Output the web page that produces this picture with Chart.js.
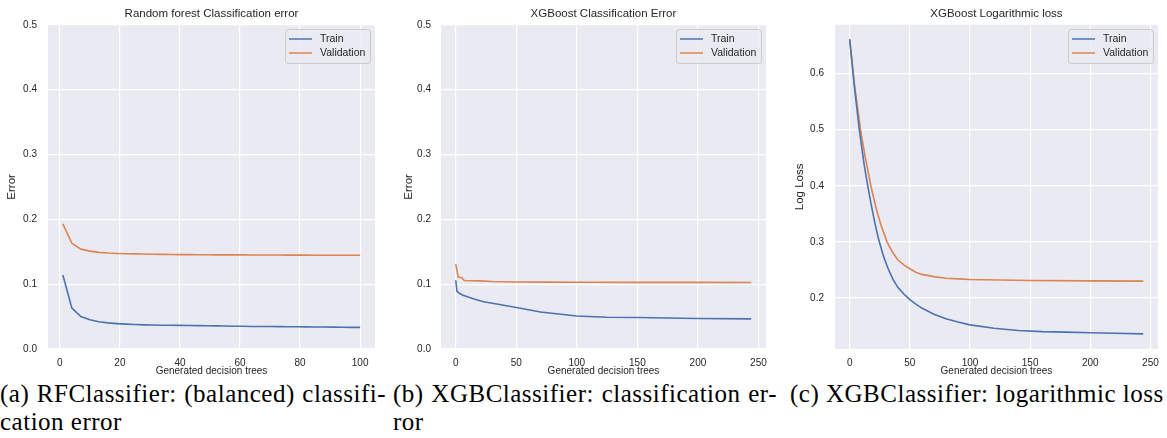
<!DOCTYPE html>
<html>
<head>
<meta charset="utf-8">
<title>Training curves</title>
<script src="https://cdn.jsdelivr.net/npm/chart.js@4.4.1/dist/chart.umd.min.js"></script>
<style>
  html, body { margin: 0; padding: 0; background: #fff; }
  body { position: relative; width: 1167px; height: 438px; overflow: hidden; }
  .panel { position: absolute; top: 0; height: 380px; }
  .caption {
    position: absolute;
    top: 380px;
    font-family: "Liberation Serif", "Times New Roman", serif;
    font-size: 25px;
    line-height: 28px;
    letter-spacing: 0.5px;
    color: #000;
    white-space: nowrap;
  }
  .caption .full { text-align: justify; text-align-last: justify; }
</style>
</head>
<body>

<div class="panel" style="left:0;width:385px"><canvas id="rfError"></canvas></div>
<div class="panel" style="left:390px;width:385px"><canvas id="xgbError"></canvas></div>
<div class="panel" style="left:780px;width:387px"><canvas id="xgbLogloss"></canvas></div>

<div class="caption" style="left:0;width:386px">
  <div class="full">(a) RFClassifier: (balanced) classifi-</div>
  <div>cation error</div>
</div>
<div class="caption" style="left:393px;width:384px">
  <div class="full">(b) XGBClassifier: classification er-</div>
  <div>ror</div>
</div>
<div class="caption" style="left:790px;width:374px">
  <div>(c) XGBClassifier: logarithmic loss</div>
</div>

<script>
// --- Random forest: error vs number of trees ---
const rfTrees = [1, 4, 7, 10, 13, 16, 19, 22, 25, 28, 31, 34, 37, 40, 43, 46, 49,
                 52, 55, 58, 61, 64, 67, 70, 73, 76, 79, 82, 85, 88, 91, 94, 97, 100];
const rfTrain = [0.114, 0.063, 0.050, 0.045, 0.042, 0.0403, 0.0392, 0.0383, 0.0377,
                 0.0372, 0.0369, 0.0367, 0.0366, 0.0364, 0.0362, 0.0360, 0.0358,
                 0.0356, 0.0354, 0.0352, 0.0350, 0.0348, 0.0347, 0.0346, 0.0345,
                 0.0343, 0.0342, 0.0341, 0.0340, 0.0339, 0.0337, 0.0336, 0.0334, 0.0333];
const rfVal = [0.193, 0.163, 0.154, 0.151, 0.149, 0.148, 0.1474, 0.1470, 0.1467,
               0.1464, 0.1462, 0.1460, 0.1458, 0.1456, 0.1455, 0.1454, 0.1453,
               0.1452, 0.1452, 0.1451, 0.1451, 0.1450, 0.1450, 0.1449, 0.1449,
               0.1448, 0.1448, 0.1448, 0.1447, 0.1447, 0.1447, 0.1446, 0.1446, 0.1446];

// --- XGBoost: classification error ---
const xgbErrTrainTrees = [0, 1, 3, 6, 9, 15, 23, 35, 50, 70, 85, 100, 125, 150, 200, 244];
const xgbErrTrain = [0.106, 0.089, 0.086, 0.083, 0.081, 0.077, 0.073, 0.069, 0.064,
                     0.057, 0.054, 0.051, 0.049, 0.0485, 0.047, 0.0465];
const xgbErrValTrees = [0, 2, 5, 7, 12, 20, 30, 50, 75, 100, 150, 200, 244];
const xgbErrVal = [0.131, 0.111, 0.110, 0.1057, 0.1053, 0.105, 0.104, 0.1033,
                   0.1031, 0.103, 0.1028, 0.1027, 0.1026];

// --- XGBoost: log loss ---
const xgbLossTrainTrees = [0, 4, 8, 12, 15, 18, 21, 24, 28, 32, 36, 40, 45, 50, 55, 60,
                           70, 80, 90, 100, 120, 140, 160, 180, 200, 220, 244];
const xgbLossTrain = [0.661, 0.575, 0.500, 0.438, 0.400, 0.365, 0.333, 0.305, 0.275,
                      0.252, 0.233, 0.219, 0.207, 0.197, 0.189, 0.182, 0.171, 0.163,
                      0.157, 0.152, 0.146, 0.142, 0.140, 0.139, 0.138, 0.137, 0.136];
const xgbLossValTrees = [0, 4, 9, 13, 18, 22, 26, 31, 36, 40, 45, 50, 55, 60, 70, 80,
                         90, 100, 125, 150, 200, 244];
const xgbLossVal = [0.661, 0.580, 0.500, 0.450, 0.396, 0.360, 0.330, 0.300, 0.280,
                    0.268, 0.259, 0.252, 0.246, 0.242, 0.238, 0.235, 0.234, 0.233,
                    0.232, 0.231, 0.2305, 0.230];

// tick positions
const rfXTicks = [0, 20, 40, 60, 80, 100];
const xgbXTicks = [0, 50, 100, 150, 200, 250];
const errYTicks = [0, 0.1, 0.2, 0.3, 0.4, 0.5];
const lossYTicks = [0.2, 0.3, 0.4, 0.5, 0.6];

const BLUE = '#4c72b0';
const ORANGE = '#dd8452';
const AXES_BG = '#eaeaf2';
const INK = '#262626';
const SANS = "'Liberation Sans', Arial, sans-serif";

Chart.defaults.font.family = SANS;
Chart.defaults.font.size = 10;
Chart.defaults.color = INK;

// grey panel behind the grid
const axesBackground = {
  id: 'axesBackground',
  beforeDraw(chart) {
    const { ctx, chartArea: a } = chart;
    ctx.save();
    ctx.fillStyle = AXES_BG;
    ctx.fillRect(a.left, a.top, a.width, a.height);
    ctx.restore();
  }
};

// framed legend in the upper right corner of the plot
const cornerLegend = {
  id: 'cornerLegend',
  afterDatasetsDraw(chart) {
    const { ctx, chartArea } = chart;
    const sets = chart.data.datasets;
    ctx.save();
    ctx.font = '10.5px ' + SANS;
    const textW = Math.max(...sets.map(d => ctx.measureText(d.label).width));
    const w = Math.round(35 + textW + 5), h = 34;
    const x = Math.round(chartArea.right - 5 - w), y = Math.round(chartArea.top + 4);
    ctx.beginPath();
    ctx.roundRect(x + 0.5, y + 0.5, w, h, 3);
    ctx.fillStyle = 'rgba(234, 234, 242, 0.8)';
    ctx.fill();
    ctx.strokeStyle = '#cccccc';
    ctx.lineWidth = 1;
    ctx.stroke();
    ctx.textBaseline = 'middle';
    sets.forEach((d, i) => {
      const cy = y + 10 + i * 14;
      ctx.strokeStyle = d.borderColor;
      ctx.lineWidth = 1.5;
      ctx.beginPath();
      ctx.moveTo(x + 4, cy);
      ctx.lineTo(x + 27, cy);
      ctx.stroke();
      ctx.fillStyle = INK;
      ctx.fillText(d.label, x + 35, cy);
    });
    ctx.restore();
  }
};

function series(label, color, xs, ys) {
  return {
    label: label,
    data: xs.map((x, i) => ({ x: x, y: ys[i] })),
    borderColor: color,
    backgroundColor: color,
    borderWidth: 1.6,
    pointRadius: 0,
    tension: 0,
    fill: false
  };
}

function curveChart(id, o) {
  new Chart(document.getElementById(id), {
    type: 'line',
    data: { datasets: o.datasets },
    options: {
      responsive: true,
      maintainAspectRatio: false,
      animation: false,
      layout: { padding: { left: 0, top: 0, right: o.padRight, bottom: 0 } },
      plugins: {
        legend: { display: false },
        tooltip: { enabled: false },
        title: {
          display: true,
          text: o.title,
          fullSize: false,
          color: INK,
          font: { size: 11.5, weight: 'normal' },
          padding: { top: 7, bottom: 4 }
        }
      },
      scales: {
        x: {
          type: 'linear',
          min: o.xMin,
          max: o.xMax,
          afterBuildTicks: s => { s.ticks = o.xTicks.map(v => ({ value: v })); },
          afterFit: s => { s.height = 31; },
          ticks: { autoSkip: false, maxRotation: 0, padding: 8, callback: v => String(v) },
          grid: { color: '#ffffff', lineWidth: 1.2, drawTicks: false },
          border: { display: false },
          title: {
            display: true,
            text: 'Generated decision trees',
            color: INK,
            font: { size: 10 },
            padding: { top: 0, bottom: 3 }
          }
        },
        y: {
          min: o.yMin,
          max: o.yMax,
          afterBuildTicks: s => { s.ticks = o.yTicks.map(v => ({ value: v })); },
          afterFit: s => { s.width = o.yWidth; },
          ticks: { autoSkip: false, padding: o.yTickPad, callback: v => v.toFixed(1) },
          grid: { color: '#ffffff', lineWidth: 1.2, drawTicks: false },
          border: { display: false },
          title: {
            display: true,
            text: o.yTitle,
            color: INK,
            font: { size: 11.5 },
            padding: { top: o.yTitlePad, bottom: 0 }
          }
        }
      }
    },
    plugins: [axesBackground, cornerLegend]
  });
}

curveChart('rfError', {
  title: 'Random forest Classification error',
  yTitle: 'Error',
  datasets: [
    series('Train', BLUE, rfTrees, rfTrain),
    series('Validation', ORANGE, rfTrees, rfVal)
  ],
  xMin: -3.95, xMax: 104.95, xTicks: rfXTicks,
  yMin: 0, yMax: 0.5, yTicks: errYTicks,
  yWidth: 48, yTickPad: 11, yTitlePad: 5, padRight: 10
});

curveChart('xgbError', {
  title: 'XGBoost Classification Error',
  yTitle: 'Error',
  datasets: [
    series('Train', BLUE, xgbErrTrainTrees, xgbErrTrain),
    series('Validation', ORANGE, xgbErrValTrees, xgbErrVal)
  ],
  xMin: -12.2, xMax: 256.2, xTicks: xgbXTicks,
  yMin: 0, yMax: 0.5, yTicks: errYTicks,
  yWidth: 51, yTickPad: 10, yTitlePad: 12, padRight: 8
});

curveChart('xgbLogloss', {
  title: 'XGBoost Logarithmic loss',
  yTitle: 'Log Loss',
  datasets: [
    series('Train', BLUE, xgbLossTrainTrees, xgbLossTrain),
    series('Validation', ORANGE, xgbLossValTrees, xgbLossVal)
  ],
  xMin: -12.2, xMax: 256.2, xTicks: xgbXTicks,
  yMin: 0.109, yMax: 0.687, yTicks: lossYTicks,
  yWidth: 55, yTickPad: 11, yTitlePad: 13, padRight: 7
});
</script>
</body>
</html>
